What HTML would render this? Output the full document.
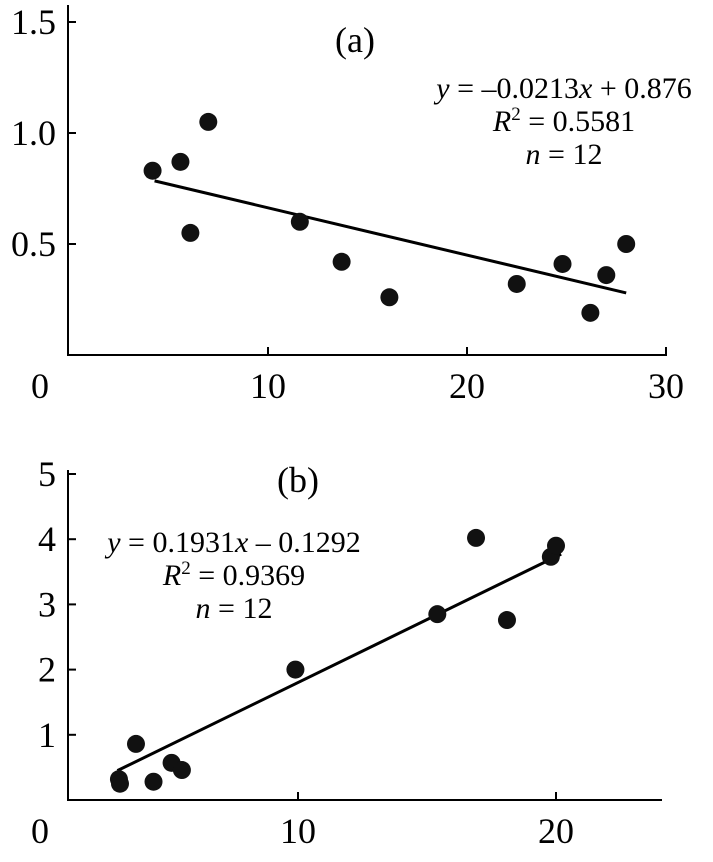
<!DOCTYPE html>
<html><head><meta charset="utf-8">
<style>
body{margin:0;background:#fff;}
svg{display:block;font-family:"Liberation Serif",serif;}
</style></head>
<body>
<svg id="chart" width="713" height="862"></svg>
<script>
// Panel (a) data
const aX = [4.2, 5.6, 6.1, 7.0, 11.6, 13.7, 16.1, 22.5, 24.8, 26.2, 27.0, 28.0];
const aY = [0.83, 0.87, 0.55, 1.05, 0.60, 0.42, 0.26, 0.32, 0.41, 0.19, 0.36, 0.50];
const aXTicks = [0, 10, 20, 30];
const aYTicks = [0.5, 1.0, 1.5];
const aSlope = -0.0213, aIntercept = 0.876, aFitRange = [4.3, 28];
// Panel (b) data
const bX = [3.06, 3.1, 3.72, 4.4, 5.1, 5.5, 9.9, 15.4, 16.9, 18.1, 19.8, 20.0];
const bY = [0.32, 0.25, 0.86, 0.28, 0.57, 0.46, 2.0, 2.85, 4.02, 2.76, 3.73, 3.9];
const bXTicks = [0, 10, 20];
const bYTicks = [1, 2, 3, 4, 5];
const bSlope = 0.1931, bIntercept = -0.1292, bFitRange = [3.0, 20.2];

const NS = "http://www.w3.org/2000/svg";
const svg = document.getElementById('chart');
function mk(tag, attrs, parent){const e=document.createElementNS(NS,tag);for(const k in attrs)e.setAttribute(k,attrs[k]);(parent||svg).appendChild(e);return e;}

const axA = v => 69 + 19.9*v, ayA = v => 355 - 222*v;
const axB = v => 40 + 25.8*v, ayB = v => 800 - 65.2*v;

function panel(opt){
  const g = mk('g',{});
  
  
  const ya = mk('line',{x1:68,y1:opt.yTop,x2:68,y2:opt.yAxis,stroke:'#000','stroke-width':2},g);
  
  
  const xa = mk('line',{x1:67,y1:opt.yAxis,x2:opt.xEnd,y2:opt.yAxis,stroke:'#000','stroke-width':2},g);
  
  
  opt.xTicks.forEach(t=>{
    const px = t===0 ? 40 : opt.sx(t);
    if(t!==0){ mk('line',{x1:px,y1:opt.yAxis,x2:px,y2:opt.yAxis-8,stroke:'#000','stroke-width':2},g); }
    const tx = mk('text',{x:px,y:opt.yAxis+43,'text-anchor':'middle','font-size':36},g);
    tx.textContent = t;
    
    
  });
  opt.yTicks.forEach(t=>{
    const py = opt.sy(t);
    mk('line',{x1:68,y1:py,x2:76,y2:py,stroke:'#000','stroke-width':2},g);
    const tx = mk('text',{x:56,y:py+12,'text-anchor':'end','font-size':36},g);
    tx.textContent = opt.yFmt(t);
    
    
  });
  const [x0,x1] = opt.fit;
  const fl = mk('line',{x1:opt.sx(x0),y1:opt.sy(opt.m*x0+opt.b),x2:opt.sx(x1),y2:opt.sy(opt.m*x1+opt.b),stroke:'#000','stroke-width':3},g);
  
  
  opt.xs.forEach((x,i)=>{
    const c = mk('circle',{cx:opt.sx(x),cy:opt.sy(opt.ys[i]),r:9,fill:'#111'},g);
    
    
  });
  const lab = mk('text',{x:opt.label[0],y:opt.label[1],'text-anchor':'middle','font-size':36},g);
  lab.textContent = opt.labelText;
  
  
  opt.eq.forEach((ln,i)=>{
    const t = mk('text',{x:opt.eqX,y:opt.eqY+i*33,'text-anchor':'middle','font-size':30},g);
    t.innerHTML = ln;
    
    
  });
}

panel({name:'panel-a',sx:axA,sy:ayA,yTop:5,yAxis:355,xEnd:667,xTicks:aXTicks,yTicks:aYTicks,yFmt:t=>t.toFixed(1),
  xs:aX,ys:aY,m:aSlope,b:aIntercept,fit:aFitRange,label:[355,52],labelText:'(a)',
  eqX:564,eqY:98,eq:['<tspan font-style="italic">y</tspan> = –0.0213<tspan font-style="italic">x</tspan> + 0.876',
   '<tspan font-style="italic">R</tspan><tspan dy="-11" font-size="19">2</tspan><tspan dy="11"> = 0.5581</tspan>',
   '<tspan font-style="italic">n</tspan> = 12']});
panel({name:'panel-b',sx:axB,sy:ayB,yTop:470,yAxis:800,xEnd:662,xTicks:bXTicks,yTicks:bYTicks,yFmt:t=>t,
  xs:bX,ys:bY,m:bSlope,b:bIntercept,fit:bFitRange,label:[298,492],labelText:'(b)',
  eqX:234,eqY:552,eq:['<tspan font-style="italic">y</tspan> = 0.1931<tspan font-style="italic">x</tspan> – 0.1292',
   '<tspan font-style="italic">R</tspan><tspan dy="-11" font-size="19">2</tspan><tspan dy="11"> = 0.9369</tspan>',
   '<tspan font-style="italic">n</tspan> = 12']});
</script>
</body></html>
